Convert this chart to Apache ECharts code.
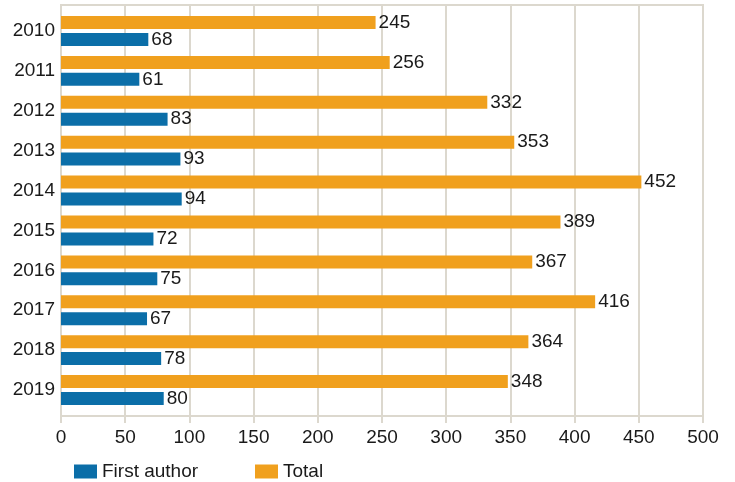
<!DOCTYPE html>
<html><head><meta charset="utf-8">
<script src="https://cdn.jsdelivr.net/npm/echarts@6/dist/echarts.min.js"></script>
<style>html,body{margin:0;padding:0;background:#fff}#c{width:735px;height:482px}</style>
</head><body><div id="c"></div>
<script>
const years = ['2010','2011','2012','2013','2014','2015','2016','2017','2018','2019'];
const firstAuthor = [68,61,83,93,94,72,75,67,78,80];
const total = [245,256,332,353,452,389,367,416,364,348];
const xTicks = [0,500,50];

const chart = echarts.init(document.getElementById('c'));
const font = 'Liberation Sans, Arial, sans-serif';
const txt = '#1a1a1a';
const lineC = '#dcd8ce';
const lbl = {show:true, position:'right', distance:3, color:txt, fontSize:19, fontFamily:font};
chart.setOption({
  animation:false,
  grid:[
    {left:61, right:32, top:5, bottom:66, show:true, borderColor:lineC, borderWidth:2},
    {left:61, right:32, top:11, bottom:72}
  ],
  legend:[
    {top:457, left:69, itemWidth:23, itemHeight:14, icon:'rect',
     textStyle:{fontSize:19, color:txt, fontFamily:font}, data:['First author']},
    {top:457, left:250, itemWidth:23, itemHeight:14, icon:'rect',
     textStyle:{fontSize:19, color:txt, fontFamily:font}, data:['Total']}
  ],
  xAxis:[
    {type:'value', gridIndex:0, min:xTicks[0], max:xTicks[1], interval:xTicks[2],
     axisLine:{show:false}, axisTick:{show:true, length:7, lineStyle:{color:lineC, width:2}},
     splitLine:{lineStyle:{color:lineC, width:2}},
     axisLabel:{fontSize:19, color:txt, fontFamily:font, margin:12}},
    {type:'value', gridIndex:1, min:xTicks[0], max:xTicks[1], interval:xTicks[2], show:false,
     splitLine:{show:false}}
  ],
  yAxis:[
    {type:'category', gridIndex:0, data:years, show:false},
    {type:'category', gridIndex:1, data:years, inverse:true,
     axisLine:{show:false}, axisTick:{show:false},
     axisLabel:{fontSize:19, color:txt, fontFamily:font, margin:6}}
  ],
  series:[
    {name:'Total', type:'bar', xAxisIndex:1, yAxisIndex:1, data:total,
     itemStyle:{color:'#f0a01e'}, label:lbl, barWidth:13, barGap:'30%'},
    {name:'First author', type:'bar', xAxisIndex:1, yAxisIndex:1, data:firstAuthor,
     itemStyle:{color:'#0b6ea8'}, label:lbl, barWidth:13}
  ]
});
</script></body></html>
